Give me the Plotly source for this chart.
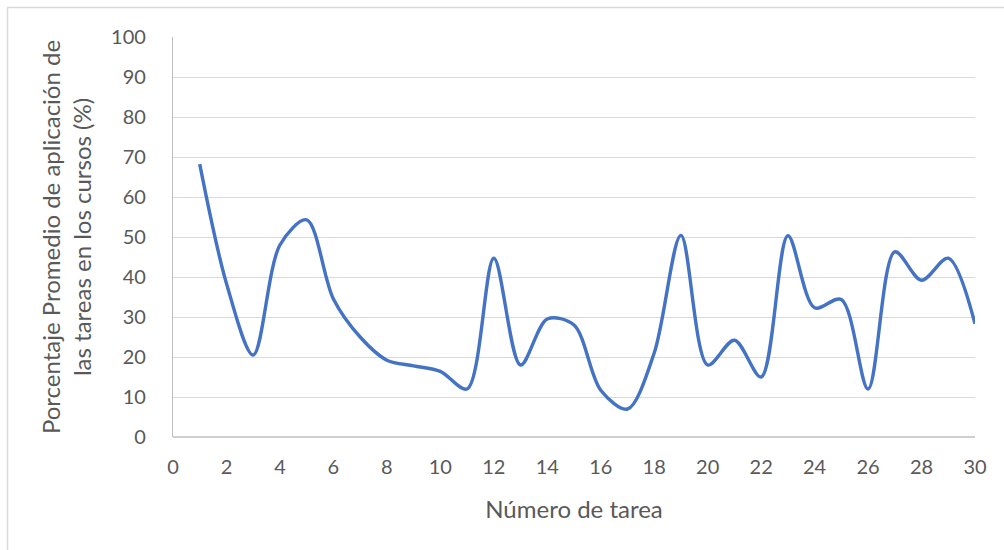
import plotly.graph_objects as go

# Average application percentage per task (tasks 1..30)
tareas = list(range(1, 31))
porcentaje = [68.2, 38.4, 20.5, 48.0, 54.3, 34.5, 25.0, 19.2, 17.8, 16.4,
              12.0, 44.7, 18.0, 29.5, 28.0, 11.7, 7.0, 21.0, 50.4, 18.0,
              24.2, 15.0, 50.3, 32.3, 34.4, 12.0, 46.3, 39.2, 44.7, 28.3]

x_ticks = list(range(0, 31, 2))
y_ticks = list(range(0, 101, 10))

FONT = "Lato"
GREY_TEXT = "#595959"

fig = go.Figure()
fig.add_trace(go.Scatter(
    x=tareas, y=porcentaje, mode="lines",
    line=dict(color="#4472C4", width=3.4, shape="spline", smoothing=0.9),
    showlegend=False, hoverinfo="x+y",
))

W, H = 1004, 550
L, R, T, B = 173, 29, 37, 113
pw, ph = W - L - R, H - T - B

def px_x(p):
    return (p - L) / pw

def px_y(p):
    return (H - B - p) / ph

fig.update_layout(
    width=W, height=H,
    margin=dict(l=L, r=R, t=T, b=B, autoexpand=False),
    paper_bgcolor="white", plot_bgcolor="white",
    font=dict(family=FONT, color=GREY_TEXT),
    xaxis=dict(
        range=[0, 30], tickvals=x_ticks, ticktext=[str(v) for v in x_ticks],
        showgrid=False, zeroline=False, showline=False,
        ticks="", ticklabelstandoff=16,
        tickfont=dict(size=20, color=GREY_TEXT, family=FONT),
        title=dict(text="Número de tarea", font=dict(size=24, color=GREY_TEXT, family=FONT), standoff=24),
    ),
    yaxis=dict(
        range=[0, 100], tickvals=y_ticks, ticktext=[str(v) for v in y_ticks],
        showgrid=True, gridcolor="#D9D9D9", gridwidth=1.3,
        zeroline=False, showline=True, linecolor="#BFBFBF", linewidth=1.3,
        ticks="", ticklabelstandoff=22,
        tickfont=dict(size=20, color=GREY_TEXT, family=FONT),
        title=dict(text="Porcentaje Promedio de aplicación de<br>las tareas en los cursos (%)",
                   font=dict(size=24, color=GREY_TEXT, family=FONT), standoff=12),
    ),
    shapes=[
        # bottom axis line
        dict(type="line", xref="paper", yref="paper", x0=0, x1=1, y0=0, y1=0,
             line=dict(color="#BFBFBF", width=1.3)),
        # outer frame (top and left edges)
        dict(type="line", xref="paper", yref="paper", x0=px_x(7), x1=px_x(W + 5),
             y0=px_y(7.5), y1=px_y(7.5), line=dict(color="#D9D9D9", width=1.5)),
        dict(type="line", xref="paper", yref="paper", x0=px_x(7.5), x1=px_x(7.5),
             y0=px_y(7), y1=px_y(H + 5), line=dict(color="#D9D9D9", width=1.5)),
    ],
)

fig.write_html("out.html")
